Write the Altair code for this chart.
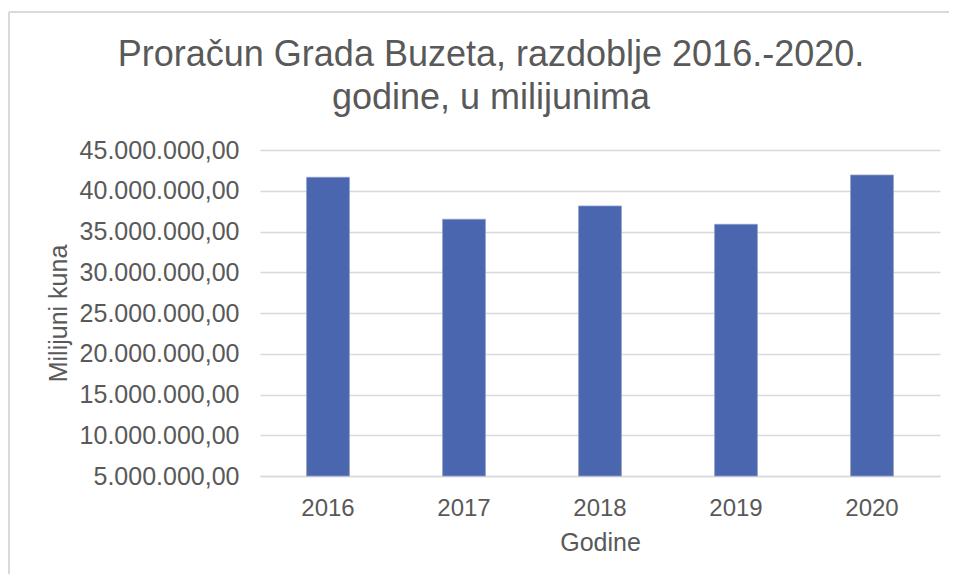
import altair as alt
import pandas as pd

years = ["2016", "2017", "2018", "2019", "2020"]
budget = [41650000, 36500000, 38130000, 35880000, 41930000]
y_ticks = [5000000, 10000000, 15000000, 20000000, 25000000, 30000000, 35000000, 40000000, 45000000]

title_lines = ["Proračun Grada Buzeta, razdoblje 2016.-2020.", "godine, u milijunima"]
x_title = "Godine"
y_title = "Milijuni kuna"

df = pd.DataFrame({"year": years, "value": budget})
title_df = pd.DataFrame({"line": title_lines, "idx": [0, 1]})

FONT = "Liberation Sans"
GREY = "#595959"

label_expr = ("replace(replace(replace(format(datum.value, ',.2f'), /,/g, '#'), "
              "/\\./g, ','), /#/g, '.')")

base = alt.Chart(df)

bars = base.mark_bar(color="#4966ae", stroke="#8a9dcc", strokeWidth=0.8).encode(
    x=alt.X("year:N", sort=years,
            scale=alt.Scale(paddingInner=0.685, paddingOuter=0.3425),
            axis=alt.Axis(title=x_title, labelAngle=0, labelFont=FONT, labelFontSize=24,
                          labelColor=GREY, labelPadding=20, ticks=False,
                          domainColor="#d9d9d9", domainWidth=1.5,
                          titleFont=FONT, titleFontSize=25, titleFontWeight="normal",
                          titleColor=GREY, titlePadding=10)),
    y=alt.Y("value:Q",
            scale=alt.Scale(domain=[5000000, 45000000], zero=False, nice=False),
            axis=alt.Axis(title=y_title, values=y_ticks, labelExpr=label_expr,
                          labelFont=FONT, labelFontSize=25, labelColor=GREY,
                          labelPadding=21, ticks=False, domain=False,
                          gridColor="#d9d9d9", gridWidth=1.5,
                          titleFont=FONT, titleFontSize=25, titleFontWeight="normal",
                          titleColor=GREY, titleX=-194, titleBaseline="alphabetic")),
    y2=alt.datum(5000000),
)

title_text = alt.Chart(title_df).mark_text(
    font=FONT, fontSize=36, color=GREY, align="center", baseline="alphabetic"
).encode(
    text="line:N",
    x=alt.value(231),
    y=alt.Y("idx:Q", scale=alt.Scale(domain=[0, 1], range=[-84, -41]), axis=None),
)

frame_top = base.mark_rule(color="#d9d9d9", strokeWidth=1.5).encode(
    x=alt.value(-251), x2=alt.value(690), y=alt.value(-138)
)
frame_left = base.mark_rule(color="#d9d9d9", strokeWidth=1.5).encode(
    x=alt.value(-251), y=alt.value(-138), y2=alt.value(450)
)

chart = alt.layer(frame_top, frame_left, bars, title_text).resolve_scale(
    y="independent"
).properties(
    width=680,
    height=326,
    autosize=alt.AutoSizeParams(type="none"),
    padding={"left": 252, "top": 142, "right": 9, "bottom": 98},
).configure_view(stroke=None)

chart.save("out.html", embed_options={"renderer": "svg", "actions": False})
